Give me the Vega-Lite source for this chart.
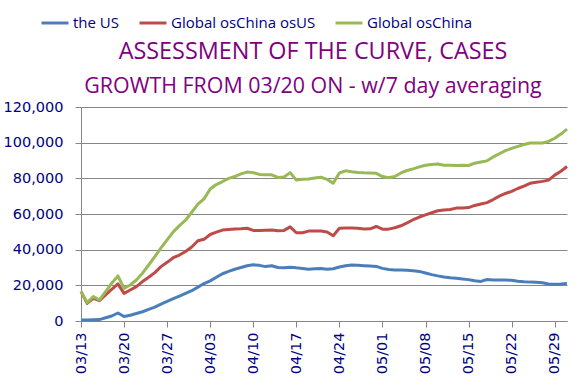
{
  "$schema": "https://vega.github.io/schema/vega-lite/v6.json",
  "autosize": "none",
  "width": 486,
  "height": 214,
  "padding": {"left": 81, "top": 107, "right": 13, "bottom": 68},
  "background": "white",
  "config": {
    "view": {"stroke": null},
    "font": "Open Sans"
  },
  "title": {
    "text": "ASSESSMENT OF THE CURVE, CASES",
    "subtitle": "GROWTH FROM 03/20 ON - w/7 day averaging",
    "anchor": "middle",
    "frame": "group",
    "dx": -11,
    "dy": 90,
    "offset": 0,
    "font": "Open Sans",
    "fontSize": 23.4,
    "fontWeight": "normal",
    "color": "#800080",
    "subtitleFont": "Open Sans",
    "subtitleFontSize": 21.4,
    "subtitleColor": "#800080",
    "subtitlePadding": 11
  },
  "data": {
    "values": [
      {"date":"03/13","the US":500,"Global osChina osUS":16500,"Global osChina":16500},
      {"date":"03/14","the US":600,"Global osChina osUS":9900,"Global osChina":10300},
      {"date":"03/15","the US":700,"Global osChina osUS":12700,"Global osChina":13700},
      {"date":"03/16","the US":800,"Global osChina osUS":11400,"Global osChina":11800},
      {"date":"03/17","the US":1800,"Global osChina osUS":14600,"Global osChina":16500},
      {"date":"03/18","the US":2800,"Global osChina osUS":17800,"Global osChina":21200},
      {"date":"03/19","the US":4500,"Global osChina osUS":20800,"Global osChina":25300},
      {"date":"03/20","the US":2500,"Global osChina osUS":15500,"Global osChina":18300},
      {"date":"03/21","the US":3200,"Global osChina osUS":17400,"Global osChina":20200},
      {"date":"03/22","the US":4200,"Global osChina osUS":19300,"Global osChina":23000},
      {"date":"03/23","the US":5200,"Global osChina osUS":22100,"Global osChina":26800},
      {"date":"03/24","the US":6500,"Global osChina osUS":24500,"Global osChina":31400},
      {"date":"03/25","the US":7800,"Global osChina osUS":27100,"Global osChina":36100},
      {"date":"03/26","the US":9500,"Global osChina osUS":30500,"Global osChina":41000},
      {"date":"03/27","the US":11000,"Global osChina osUS":32900,"Global osChina":45500},
      {"date":"03/28","the US":12500,"Global osChina osUS":35500,"Global osChina":50000},
      {"date":"03/29","the US":14000,"Global osChina osUS":37000,"Global osChina":53500},
      {"date":"03/30","the US":15500,"Global osChina osUS":39000,"Global osChina":56500},
      {"date":"03/31","the US":17000,"Global osChina osUS":41500,"Global osChina":61000},
      {"date":"04/01","the US":19000,"Global osChina osUS":45000,"Global osChina":65500},
      {"date":"04/02","the US":21000,"Global osChina osUS":45800,"Global osChina":68500},
      {"date":"04/03","the US":22500,"Global osChina osUS":48500,"Global osChina":74000},
      {"date":"04/04","the US":24500,"Global osChina osUS":49800,"Global osChina":76500},
      {"date":"04/05","the US":26500,"Global osChina osUS":51000,"Global osChina":78200},
      {"date":"04/06","the US":27800,"Global osChina osUS":51300,"Global osChina":80000},
      {"date":"04/07","the US":29000,"Global osChina osUS":51600,"Global osChina":81000},
      {"date":"04/08","the US":30000,"Global osChina osUS":51700,"Global osChina":82500},
      {"date":"04/09","the US":31000,"Global osChina osUS":52000,"Global osChina":83500},
      {"date":"04/10","the US":31500,"Global osChina osUS":50800,"Global osChina":83200},
      {"date":"04/11","the US":31200,"Global osChina osUS":50700,"Global osChina":82200},
      {"date":"04/12","the US":30500,"Global osChina osUS":50900,"Global osChina":82000},
      {"date":"04/13","the US":31000,"Global osChina osUS":51000,"Global osChina":82000},
      {"date":"04/14","the US":30000,"Global osChina osUS":50600,"Global osChina":80500},
      {"date":"04/15","the US":29800,"Global osChina osUS":50800,"Global osChina":80800},
      {"date":"04/16","the US":30200,"Global osChina osUS":52800,"Global osChina":83200},
      {"date":"04/17","the US":29800,"Global osChina osUS":49500,"Global osChina":79000},
      {"date":"04/18","the US":29500,"Global osChina osUS":49500,"Global osChina":79500},
      {"date":"04/19","the US":29000,"Global osChina osUS":50400,"Global osChina":79600},
      {"date":"04/20","the US":29300,"Global osChina osUS":50500,"Global osChina":80200},
      {"date":"04/21","the US":29500,"Global osChina osUS":50500,"Global osChina":80600},
      {"date":"04/22","the US":29000,"Global osChina osUS":49900,"Global osChina":79400},
      {"date":"04/23","the US":29300,"Global osChina osUS":47800,"Global osChina":77300},
      {"date":"04/24","the US":30300,"Global osChina osUS":52000,"Global osChina":83000},
      {"date":"04/25","the US":31000,"Global osChina osUS":52100,"Global osChina":84200},
      {"date":"04/26","the US":31400,"Global osChina osUS":52100,"Global osChina":83700},
      {"date":"04/27","the US":31200,"Global osChina osUS":52000,"Global osChina":83300},
      {"date":"04/28","the US":31000,"Global osChina osUS":51600,"Global osChina":83100},
      {"date":"04/29","the US":30800,"Global osChina osUS":51700,"Global osChina":83000},
      {"date":"04/30","the US":30600,"Global osChina osUS":53000,"Global osChina":82800},
      {"date":"05/01","the US":29500,"Global osChina osUS":51500,"Global osChina":81000},
      {"date":"05/02","the US":28900,"Global osChina osUS":51500,"Global osChina":80300},
      {"date":"05/03","the US":28600,"Global osChina osUS":52300,"Global osChina":81000},
      {"date":"05/04","the US":28600,"Global osChina osUS":53400,"Global osChina":83000},
      {"date":"05/05","the US":28500,"Global osChina osUS":55000,"Global osChina":84400},
      {"date":"05/06","the US":28200,"Global osChina osUS":56800,"Global osChina":85300},
      {"date":"05/07","the US":27800,"Global osChina osUS":58300,"Global osChina":86400},
      {"date":"05/08","the US":26900,"Global osChina osUS":59500,"Global osChina":87300},
      {"date":"05/09","the US":26000,"Global osChina osUS":60700,"Global osChina":87800},
      {"date":"05/10","the US":25300,"Global osChina osUS":61800,"Global osChina":88000},
      {"date":"05/11","the US":24700,"Global osChina osUS":62300,"Global osChina":87300},
      {"date":"05/12","the US":24200,"Global osChina osUS":62500,"Global osChina":87400},
      {"date":"05/13","the US":24000,"Global osChina osUS":63300,"Global osChina":87200},
      {"date":"05/14","the US":23600,"Global osChina osUS":63400,"Global osChina":87300},
      {"date":"05/15","the US":23200,"Global osChina osUS":63600,"Global osChina":87200},
      {"date":"05/16","the US":22600,"Global osChina osUS":64800,"Global osChina":88500},
      {"date":"05/17","the US":22200,"Global osChina osUS":65600,"Global osChina":89200},
      {"date":"05/18","the US":23300,"Global osChina osUS":66400,"Global osChina":89800},
      {"date":"05/19","the US":23000,"Global osChina osUS":68100,"Global osChina":92000},
      {"date":"05/20","the US":23000,"Global osChina osUS":70000,"Global osChina":93800},
      {"date":"05/21","the US":23000,"Global osChina osUS":71500,"Global osChina":95500},
      {"date":"05/22","the US":22800,"Global osChina osUS":72700,"Global osChina":96800},
      {"date":"05/23","the US":22300,"Global osChina osUS":74300,"Global osChina":97900},
      {"date":"05/24","the US":22000,"Global osChina osUS":75600,"Global osChina":99000},
      {"date":"05/25","the US":21800,"Global osChina osUS":77200,"Global osChina":99800},
      {"date":"05/26","the US":21700,"Global osChina osUS":77800,"Global osChina":99800},
      {"date":"05/27","the US":21500,"Global osChina osUS":78300,"Global osChina":99800},
      {"date":"05/28","the US":20800,"Global osChina osUS":79000,"Global osChina":100700},
      {"date":"05/29","the US":20600,"Global osChina osUS":81800,"Global osChina":102500},
      {"date":"05/30","the US":20700,"Global osChina osUS":84000,"Global osChina":104800},
      {"date":"05/31","the US":21100,"Global osChina osUS":86600,"Global osChina":107600}
    ]
  },
  "transform": [
    {"fold": ["the US", "Global osChina osUS", "Global osChina"], "as": ["series", "cases"]}
  ],
  "mark": {"type": "line", "strokeWidth": 3, "strokeJoin": "round"},
  "encoding": {
    "x": {
      "field": "date",
      "type": "ordinal",
      "scale": {"type": "point", "padding": 0},
      "axis": {
        "title": null,
        "values": ["03/13","03/20","03/27","04/03","04/10","04/17","04/24","05/01","05/08","05/15","05/22","05/29"],
        "labelAngle": 270,
        "labelColor": "#000080",
        "labelFont": "DejaVu Sans",
        "labelFontSize": 14.5,
        "labelPadding": 5,
        "tickColor": "#868686",
        "tickSize": 6,
        "domainColor": "#868686",
        "grid": false
      }
    },
    "y": {
      "field": "cases",
      "type": "quantitative",
      "scale": {"domain": [0, 120000], "nice": false},
      "axis": {
        "title": null,
        "values": [0, 20000, 40000, 60000, 80000, 100000, 120000],
        "format": ",d",
        "labelColor": "#000080",
        "labelFont": "DejaVu Sans",
        "labelFontSize": 14.5,
        "labelPadding": 12,
        "tickColor": "#868686",
        "tickSize": 6,
        "domainColor": "#868686",
        "gridColor": "#868686",
        "gridWidth": 1
      }
    },
    "color": {
      "field": "series",
      "type": "nominal",
      "scale": {
        "domain": ["the US", "Global osChina osUS", "Global osChina"],
        "range": ["#4A7EBB", "#BE4B48", "#98B954"]
      },
      "legend": {
        "title": null,
        "orient": "none",
        "direction": "horizontal",
        "legendX": -41,
        "legendY": -99,
        "symbolType": "stroke",
        "symbolStrokeWidth": 3,
        "symbolSize": 729,
        "labelColor": "#000080",
        "labelFont": "Open Sans",
        "labelFontSize": 15,
        "labelOffset": 3,
        "columnPadding": 13
      }
    }
  }
}
